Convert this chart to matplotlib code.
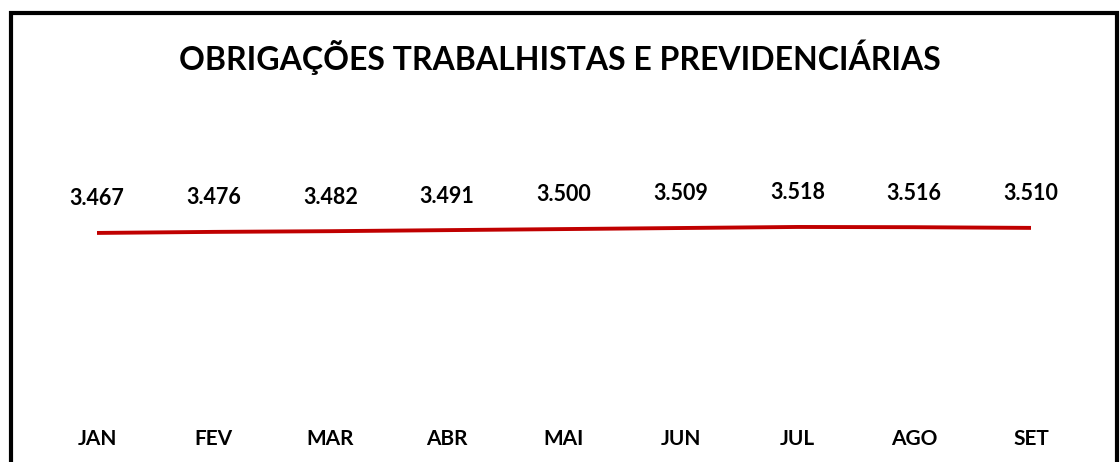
import matplotlib.pyplot as plt
from matplotlib.patches import Rectangle

months = ['JAN', 'FEV', 'MAR', 'ABR', 'MAI', 'JUN', 'JUL', 'AGO', 'SET']
values = [3467, 3476, 3482, 3491, 3500, 3509, 3518, 3516, 3510]
labels = ['3.467', '3.476', '3.482', '3.491', '3.500', '3.509', '3.518', '3.516', '3.510']

plt.rcParams['font.family'] = ['Lato', 'DejaVu Sans']

W, H = 1120, 462
fig = plt.figure(figsize=(W / 100, H / 100), dpi=100)

# axes placed in pixel terms: JAN at x=97, SET at x=1031, baseline at y=415
left, right = 97 / W, 1031 / W
bottom, top = 1 - 415 / H, 1 - 100 / H
ax = fig.add_axes([left, bottom, right - left, top - bottom])

x = list(range(len(months)))
ax.plot(x, values, color='#C00000', lw=2.8, solid_capstyle='round')
ax.set_xlim(0, len(months) - 1)
ax.set_ylim(1914, 4601)

for xi, v, lab in zip(x, values, labels):
    ax.annotate(lab, (xi, v), xytext=(0, 17), textcoords='offset points',
                ha='center', va='bottom', fontsize=15.5, fontweight='bold')

ax.set_xticks(x)
ax.set_xticklabels(months, fontsize=15, fontweight='bold')
ax.tick_params(axis='x', length=0, pad=10)
ax.set_yticks([])
for s in ax.spines.values():
    s.set_visible(False)

fig.text(0.5, 1 - 57 / H, 'OBRIGAÇÕES TRABALHISTAS E PREVIDENCIÁRIAS',
         ha='center', va='center', fontsize=23, fontweight='bold')

# outer frame, its bottom edge runs past the image
fig.patches.append(Rectangle((11 / W, -0.05), (1117 - 11) / W, 1.05 - 13 / H,
                             transform=fig.transFigure, fill=False,
                             edgecolor='black', lw=3))

fig.savefig('out.png', dpi=100)
